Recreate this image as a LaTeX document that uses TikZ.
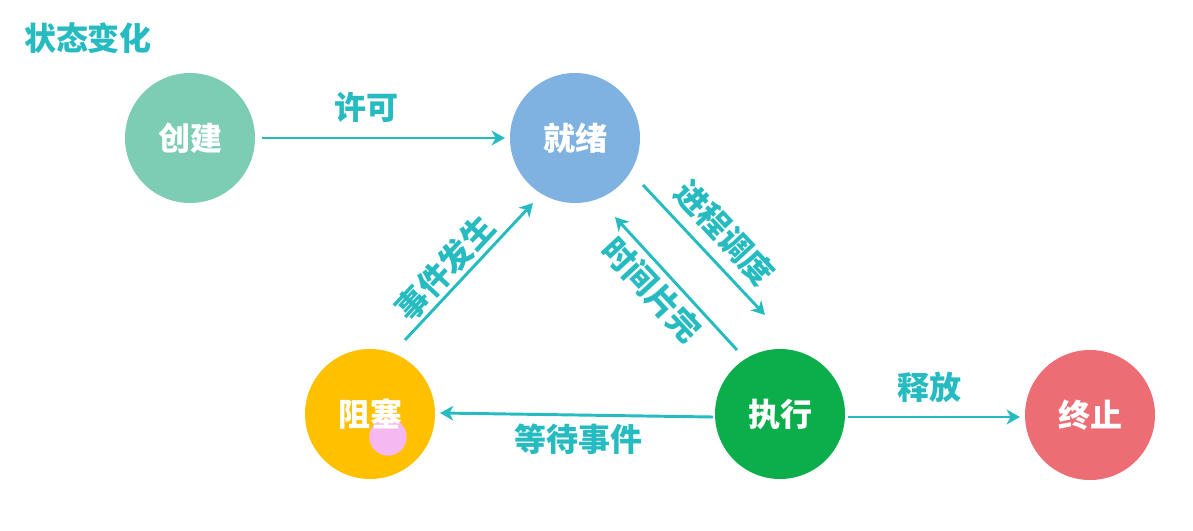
\documentclass[tikz,border=0pt]{standalone}
\usepackage{fontspec}
\newfontfamily\cjk{Noto Sans CJK SC}
\usetikzlibrary{arrows.meta,calc}
\definecolor{teal}{RGB}{38,187,193}
\definecolor{cjc}{RGB}{125,205,180}
\definecolor{jxc}{RGB}{127,178,224}
\definecolor{zsc}{RGB}{255,192,0}
\definecolor{zxc}{RGB}{11,174,74}
\definecolor{zzc}{RGB}{236,110,116}
\definecolor{pinkc}{RGB}{246,184,240}
\tikzset{
  state/.style={circle,minimum size=97.5pt,inner sep=0pt,text=white,font=\cjk\bfseries\fontsize{24}{24}\selectfont},
  arr/.style={draw=teal,line width=2.2pt,-{Stealth[length=10pt,width=11pt,inset=3pt]}},
  lbl/.style={text=teal,inner sep=0pt,font=\cjk\bfseries\fontsize{24}{24}\selectfont}
}
\begin{document}
\begin{tikzpicture}[x=0.75pt,y=-0.75pt]
\useasboundingbox[fill=white] (0,0) rectangle (1193,531);
\node[lbl] (title) at (88,38) {状态变化};
\node[state,fill=cjc] (cj) at (190,138) {};
\node[state,fill=jxc] (jx) at (575,138) {};
\node[state,fill=zsc] (zs) at (370,414) {};
\node[state,fill=zxc] (zx) at (780,414) {};
\node[state,fill=zzc] (zz) at (1090,415) {};
\node[circle,fill=pinkc,minimum size=28pt,inner sep=0pt] (cursor) at (388,437) {};
\node[state] (cjt) at (cj) {创建};
\node[state] (jxt) at (jx) {就绪};
\node[state] (zst) at (zs) {阻塞};
\node[state] (zxt) at (zx) {执行};
\node[state] (zzt) at (zz) {终止};
\draw[arr] ($(cj)+(72,0)$) -- ($(jx)+(-70,0)$);
\draw[arr] ($(zs)+(35,-74)$) -- ($(jx)+(-42,65)$);
\draw[arr] ($(jx)+(68,47)$) -- ($(zx)+(-15,-99)$);
\draw[arr] ($(zx)+(-43,-64)$) -- ($(jx)+(40,79)$);
\draw[arr] ($(zx)+(-67,3)$) -- ($(zs)+(70,-1)$);
\draw[arr] ($(zx)+(68,3)$) -- ($(zz)+(-70,2)$);
\node[lbl] (l1) at (366,107) {许可};
\node[lbl,rotate=47] (l2) at (445,268) {事件发生};
\node[lbl,rotate=-47] (l3) at (725,233) {进程调度};
\node[lbl,rotate=-47] (l4) at (652,290) {时间片完};
\node[lbl] (l5) at (578,439) {等待事件};
\node[lbl] (l6) at (929,387) {释放};
\end{tikzpicture}
\end{document}
